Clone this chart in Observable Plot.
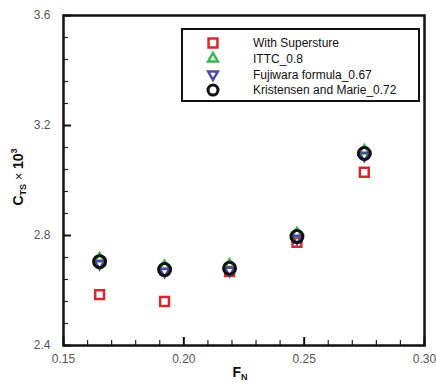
<!DOCTYPE html>
<html>
<head>
<meta charset="utf-8">
<script src="https://cdn.jsdelivr.net/npm/d3@7"></script>
<script src="https://cdn.jsdelivr.net/npm/@observablehq/plot@0.6"></script>
<style>
  body { margin: 0; background: #fff; }
  #chart { position: relative; width: 436px; height: 388px; font-family: "Liberation Sans", Arial, sans-serif; }
</style>
</head>
<body>
<div id="chart"></div>
<script>
// Froude numbers and total resistance coefficients (x 10^3)
const froude = [0.165, 0.192, 0.219, 0.247, 0.275];
const withSuperstructure = [2.585, 2.56, 2.669, 2.775, 3.03];
const ittc = [2.716, 2.688, 2.693, 2.807, 3.108];
const fujiwara = [2.698, 2.669, 2.673, 2.789, 3.091];
const kristensen = [2.705, 2.676, 2.681, 2.796, 3.098];

const seriesNames = ["With Supersture", "ITTC_0.8", "Fujiwara formula_0.67", "Kristensen and Marie_0.72"];
const seriesColors = ["#d42a2f", "#3db54a", "#4a4aa8", "#111111"];

const xTicks = [0.15, 0.20, 0.25, 0.30];
const xMinorTicks = [0.16, 0.17, 0.18, 0.19, 0.21, 0.22, 0.23, 0.24, 0.26, 0.27, 0.28, 0.29];
const yTicks = [2.4, 2.8, 3.2, 3.6];
const yMinorTicks = [2.48, 2.56, 2.64, 2.72, 2.88, 2.96, 3.04, 3.12, 3.28, 3.36, 3.44, 3.52];

const W = 436, H = 388, ML = 63, MR = 12, MT = 15, MB = 43;
const innerW = W - ML - MR, innerH = H - MT - MB;

// downward-pointing triangle (d3.symbolTriangle flipped)
const triangleDown = {
  draw(context, size) {
    const s3 = Math.sqrt(3);
    const y = -Math.sqrt(size / (s3 * 3));
    context.moveTo(0, -y * 2);
    context.lineTo(-s3 * y, y);
    context.lineTo(s3 * y, y);
    context.closePath();
  }
};

const rows = froude.map((f, i) => ({
  f, sup: withSuperstructure[i], ittc: ittc[i], fuj: fujiwara[i], kri: kristensen[i]
}));

const tickFont = { fontSize: 12, fill: "#555" };

const chart = Plot.plot({
  width: W,
  height: H,
  marginLeft: ML,
  marginRight: MR,
  marginTop: MT,
  marginBottom: MB,
  style: { fontFamily: "Liberation Sans, Arial, sans-serif", background: "#fff" },
  x: { domain: [0.15, 0.30] },
  y: { domain: [2.4, 3.6] },
  marks: [
    Plot.axisX(xTicks, { tickSize: 0, tickPadding: 9, tickFormat: d3.format(".2f"), label: null, ...tickFont }),
    Plot.axisY(yTicks, { tickSize: 0, tickPadding: 13, tickFormat: d3.format(".1f"), label: null, ...tickFont }),
    // short inward tick marks along the bottom and left edges
    Plot.tickX(xTicks, { x: d => d, insetTop: innerH - 8, stroke: "#111", strokeWidth: 2 }),
    Plot.tickX(xMinorTicks, { x: d => d, insetTop: innerH - 5, stroke: "#222", strokeWidth: 1.2 }),
    Plot.tickY(yTicks, { y: d => d, insetRight: innerW - 8, stroke: "#111", strokeWidth: 2 }),
    Plot.tickY(yMinorTicks, { y: d => d, insetRight: innerW - 5, stroke: "#222", strokeWidth: 1.2 }),
    Plot.frame({ stroke: "#111", strokeWidth: 2.5 }),
    // data series
    Plot.dot(rows, { x: "f", y: "sup", symbol: "square", r: 5, stroke: seriesColors[0], strokeWidth: 2.5, fill: "none" }),
    Plot.dot(rows, { x: "f", y: "ittc", symbol: "triangle", r: 3.6, stroke: seriesColors[1], strokeWidth: 2.5, fill: "none" }),
    Plot.dot(rows, { x: "f", y: "fuj", symbol: triangleDown, r: 3.6, stroke: seriesColors[2], strokeWidth: 2.5, fill: "none" }),
    Plot.dot(rows, { x: "f", y: "kri", symbol: "circle", r: 6, stroke: seriesColors[3], strokeWidth: 3, fill: "none" })
  ]
});

document.getElementById("chart").appendChild(chart);

const svg = d3.select(chart);

// axis titles
const xt = svg.append("text")
  .attr("x", 240).attr("y", 377)
  .attr("text-anchor", "middle")
  .attr("font-size", 14).attr("font-weight", "bold").attr("fill", "#111");
xt.append("tspan").text("F");
xt.append("tspan").attr("font-size", 9).attr("dy", 3).text("N");

const yt = svg.append("text")
  .attr("transform", "translate(23,177) rotate(-90)")
  .attr("text-anchor", "middle")
  .attr("font-size", 14).attr("font-weight", "bold").attr("fill", "#111");
yt.append("tspan").text("C");
yt.append("tspan").attr("font-size", 9).attr("dy", 3).text("TS");
yt.append("tspan").attr("font-weight", "normal").attr("font-size", 13).attr("dy", -3).text(" \u00d7 ");
yt.append("tspan").text("10");
yt.append("tspan").attr("font-size", 9).attr("dy", -6).text("3");

// legend box
const lg = svg.append("g");
lg.append("rect")
  .attr("x", 182).attr("y", 29).attr("width", 237).attr("height", 72)
  .attr("fill", "#fff").attr("stroke", "#111").attr("stroke-width", 2);
const symbols = [d3.symbolSquare, d3.symbolTriangle, triangleDown, d3.symbolCircle];
const symRadius = [5, 3.6, 3.6, 5];
const symWidth = [2.5, 2.5, 2.5, 3];
seriesNames.forEach((name, i) => {
  const cy = 43 + i * 15.7;
  lg.append("path")
    .attr("d", d3.symbol(symbols[i], symRadius[i] * symRadius[i] * Math.PI)())
    .attr("transform", `translate(213,${cy})`)
    .attr("fill", "none").attr("stroke", seriesColors[i]).attr("stroke-width", symWidth[i]);
  lg.append("text")
    .attr("x", 253).attr("y", cy).attr("dy", "0.35em")
    .attr("text-anchor", "start")
    .attr("font-size", 12).attr("fill", "#111")
    .text(name);
});
</script>
</body>
</html>
